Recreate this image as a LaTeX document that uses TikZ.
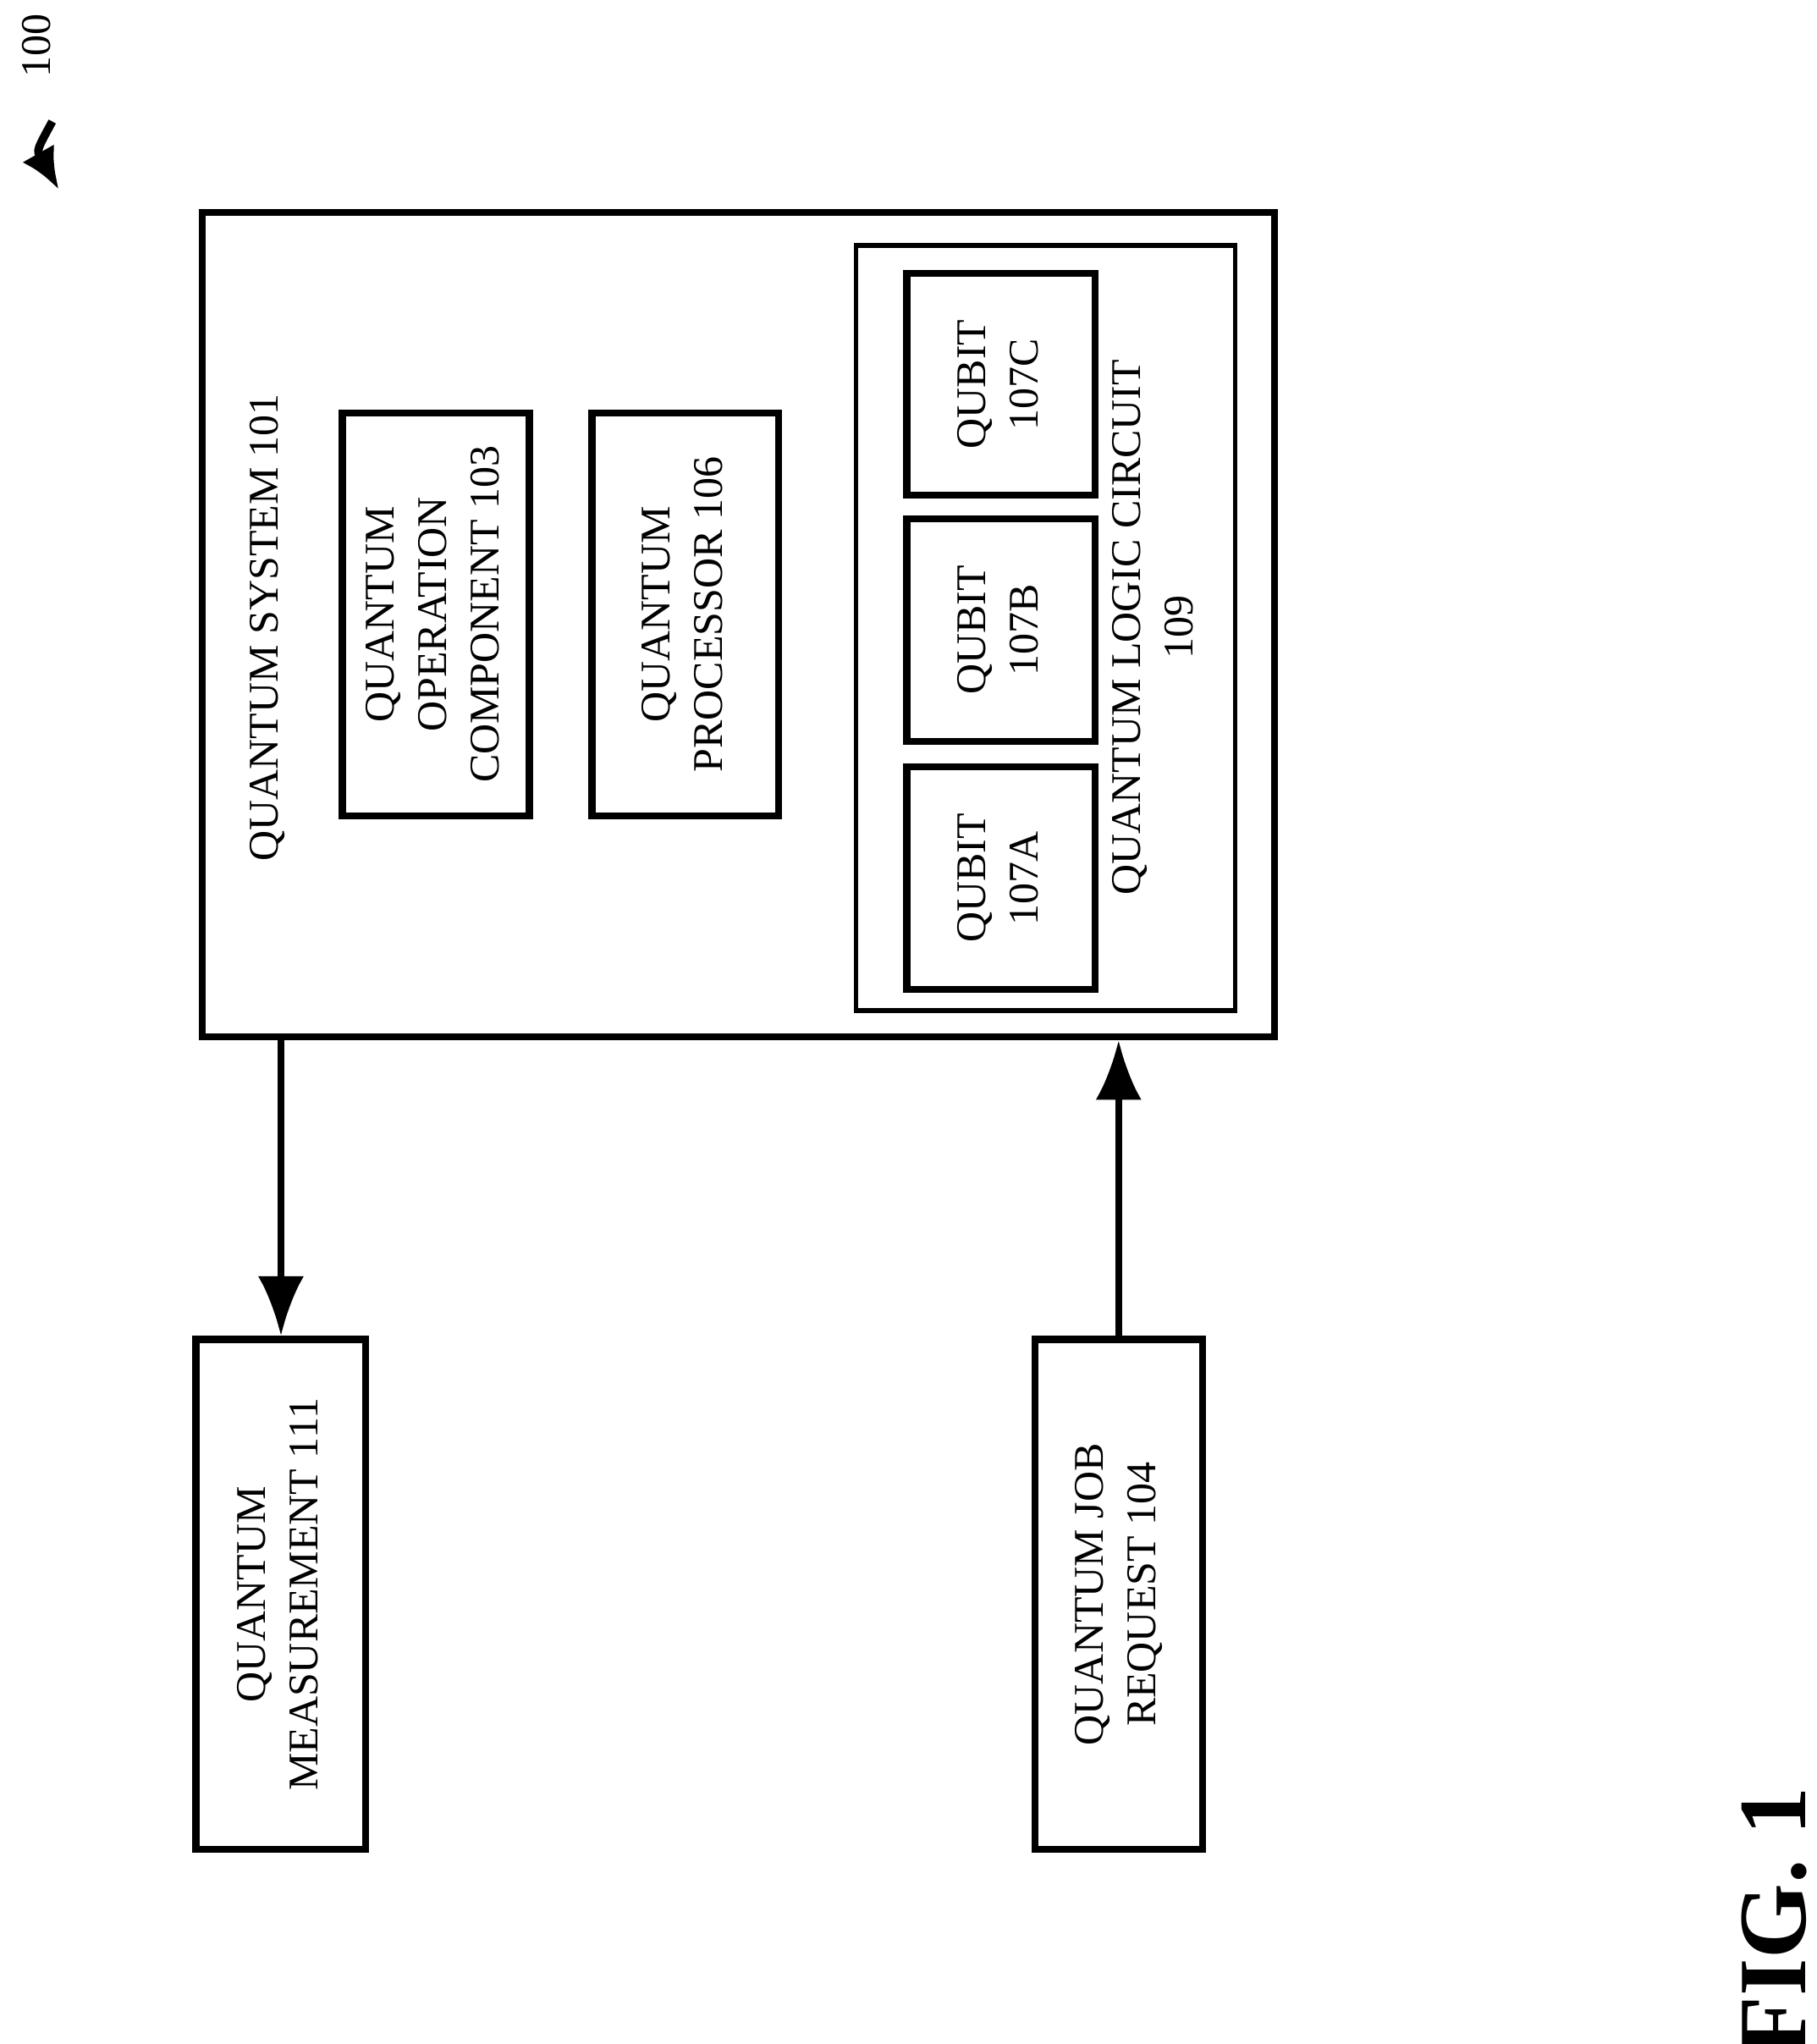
\documentclass[tikz,border=0pt]{standalone}
\usepackage{fontspec}
\setmainfont{Liberation Serif}
\usetikzlibrary{arrows.meta}
\tikzset{
  box/.style={draw, line width=1.5pt, inner sep=0pt, font=\fontsize{9.2}{11.4}\selectfont},
  thinbox/.style={draw, line width=1pt, inner sep=0pt},
  txt/.style={inner sep=0pt, font=\fontsize{9.2}{11.4}\selectfont},
  arr/.style={line width=1.5pt, -{Latex[length=13pt,width=10pt]}}
}
\newcommand{\vtext}[1]{\rotatebox{90}{\begin{tabular}{@{}c@{}}#1\end{tabular}}}
\begin{document}
\begin{tikzpicture}[x=0.01cm,y=-0.01cm]
  \useasboundingbox (0,0) rectangle (1390,1564);

  % quantum system
  \node[box, minimum width=8.2cm, minimum height=6.3cm] (sys) at (565,478) {};
  \node[txt] (syslbl) at (205,480) {\vtext{QUANTUM SYSTEM 101}};
  \node[box, minimum width=1.43cm, minimum height=3.08cm] (opc) at (333.5,470)
    {\vtext{QUANTUM\\OPERATION\\COMPONENT 103}};
  \node[box, minimum width=1.43cm, minimum height=3.08cm] (proc) at (524.5,470)
    {\vtext{QUANTUM\\PROCESSOR 106}};
  \node[thinbox, minimum width=2.9cm, minimum height=5.85cm] (qlc) at (800,480.5) {};
  \node[txt] (qlclbl) at (885,480) {\vtext{QUANTUM LOGIC CIRCUIT\\109}};
  \node[box, minimum width=1.44cm, minimum height=1.7cm] (qa) at (766,672) {\vtext{QUBIT\\107A}};
  \node[box, minimum width=1.44cm, minimum height=1.7cm] (qb) at (766,482) {\vtext{QUBIT\\107B}};
  \node[box, minimum width=1.44cm, minimum height=1.7cm] (qc) at (766,294) {\vtext{QUBIT\\107C}};

  % inputs and outputs
  \node[box, minimum width=1.3cm, minimum height=3.9cm] (meas) at (215,1220)
    {\vtext{QUANTUM\\MEASUREMENT 111}};
  \node[box, minimum width=1.28cm, minimum height=3.9cm] (job) at (856,1220)
    {\vtext{QUANTUM JOB\\REQUEST 104}};
  \draw[arr] (sys.south -| meas.north) -- (meas.north);
  \draw[arr] (job.north) -- (sys.south -| job.north);

  % figure label
  \node[txt] (num) at (28,35) {\rotatebox{90}{100}};
  \coordinate (numtip) at (45,145);
  \draw[line width=1.8pt, -{Latex[length=9pt,width=8pt]}] (40,93) .. controls (28,115) .. (numtip);
  \node[inner sep=0pt, font=\fontsize{21}{21}\selectfont\bfseries] (fig) at (1358,1470) {\rotatebox{90}{FIG. 1}};
\end{tikzpicture}
\end{document}
